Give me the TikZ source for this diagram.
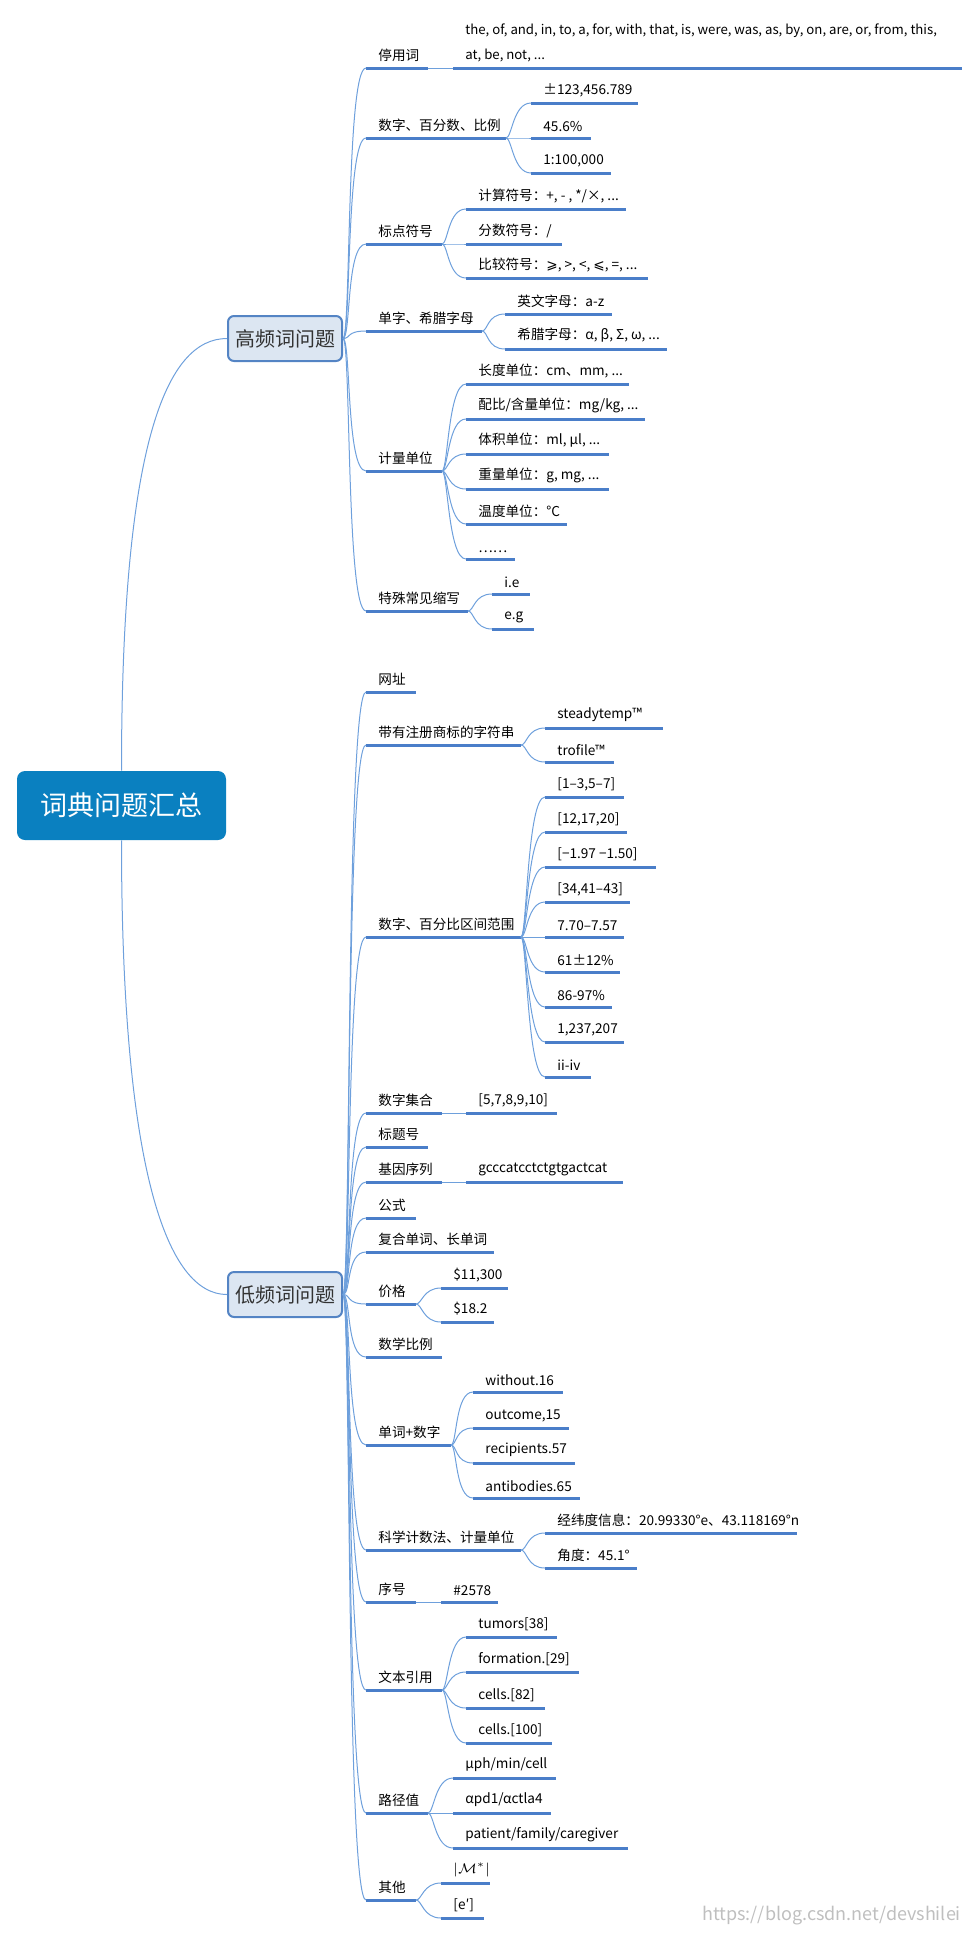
\documentclass[tikz,border=0pt]{standalone}
\usepackage{fontspec}
\setmainfont{Noto Sans CJK SC}
\newfontfamily\symf{DejaVu Sans}
\definecolor{ulblue}{RGB}{74,126,201}
\definecolor{lnblue}{RGB}{110,160,220}
\definecolor{rootblue}{RGB}{10,128,192}
\definecolor{boxfill}{RGB}{220,230,242}
\definecolor{boxline}{RGB}{84,132,196}
\tikzset{
  item/.style={anchor=south west, inner xsep=6pt, inner ysep=3pt, font=\fontsize{6.8}{10.5}\selectfont, align=left},
  ul/.style={ulblue, line width=1.5pt},
  link/.style={lnblue, line width=0.5pt},
  topic/.style={draw=boxline, line width=1pt, fill=boxfill, rounded corners=3pt, minimum width=57pt, minimum height=22.5pt, font=\fontsize{10}{12}\selectfont, text=black!80},
}
\begin{document}
\begin{tikzpicture}[x=0.5pt,y=-0.5pt]
\useasboundingbox (0,0) rectangle (975,1934);

% root and the two topics
\node[fill=rootblue, rounded corners=4pt, minimum width=104.5pt, minimum height=34.5pt, text=white, font=\fontsize{13.5}{16}\selectfont] (root) at (121.5,805.5) {词典问题汇总};
\node[topic] (hi) at (285,338.5) {高频词问题};
\node[topic] (lo) at (285,1294.5) {低频词问题};
\draw[link] (root.north) .. controls +(0,-330) and +(-60,0) .. (hi.west);
\draw[link] (root.south) .. controls +(0,330) and +(-60,0) .. (lo.west);

% high frequency branches
\node[item] (s1) at (366,68) {停用词};
\node[item] (s2) at (366,138) {数字、百分数、比例};
\node[item] (s3) at (366,244) {标点符号};
\node[item] (s4) at (366,331) {单字、希腊字母};
\node[item] (s5) at (366,471) {计量单位};
\node[item] (s6) at (366,611) {特殊常见缩写};
\foreach \n/\L in {s1/62,s2/140,s3/76,s4/116,s5/76,s6/102} {
  \draw[ul] (\n.south west) -- ++(\L,0) coordinate (\n E);
  \draw[link] (hi.east) .. controls +(8,0) and +(-20,0) .. (\n.south west);
}

% stop words
\node[item, font=\fontsize{6.6}{12.5}\selectfont] (s1c1) at (453,68) {the, of, and, in, to, a, for, with, that, is, were, was, as, by, on, are, or, from, this,\\at, be, not, ...};
\draw[ul] (s1c1.south west) -- ++(509,0);
\draw[link] (s1E) -- (s1c1.south west);

% leaves of the high frequency branches
\foreach \y/\L/\t [count=\i] in {103/107/{±123,456.789},138/60/{45.6\%},173/80/{1:100,000}} {
  \node[item] (s2c\i) at (531,\y) {\t};
  \draw[ul] (s2c\i.south west) -- ++(\L,0);
  \draw[link] (s2E) .. controls +(6,0) and +(-18,0) .. (s2c\i.south west);
}
\foreach \y/\L/\t [count=\i] in {209/160/{计算符号：+, - , */×, ...},244/96/{分数符号：/},278/182/{比较符号：{\symf ⩾}, >, <, {\symf ⩽}, =, ...}} {
  \node[item] (s3c\i) at (466,\y) {\t};
  \draw[ul] (s3c\i.south west) -- ++(\L,0);
  \draw[link] (s3E) .. controls +(6,0) and +(-18,0) .. (s3c\i.south west);
}
\foreach \y/\L/\t [count=\i] in {314/107/{英文字母：a-z},349/162/{希腊字母：α, β, Σ, ω, ...}} {
  \node[item] (s4c\i) at (505,\y) {\t};
  \draw[ul] (s4c\i.south west) -- ++(\L,0);
  \draw[link] (s4E) .. controls +(6,0) and +(-18,0) .. (s4c\i.south west);
}
\foreach \y/\L/\t [count=\i] in {384/163/{长度单位：cm、mm, ...},419/179/{配比/含量单位：mg/kg, ...},454/143/{体积单位：ml, μl, ...},489/143/{重量单位：g, mg, ...},524/101/{温度单位：°C},559/49/{……}} {
  \node[item] (s5c\i) at (466,\y) {\t};
  \draw[ul] (s5c\i.south west) -- ++(\L,0);
  \draw[link] (s5E) .. controls +(6,0) and +(-18,0) .. (s5c\i.south west);
}
\foreach \y/\L/\t [count=\i] in {594/38/{i.e},629/42/{e.g}} {
  \node[item] (s6c\i) at (492,\y) {\t};
  \draw[ul] (s6c\i.south west) -- ++(\L,0);
  \draw[link] (s6E) .. controls +(6,0) and +(-18,0) .. (s6c\i.south west);
}

% low frequency branches
\foreach \n/\y/\L/\t in {t1/692/50/{网址},t2/745/155/{带有注册商标的字符串},t3/937/155/{数字、百分比区间范围},t4/1113/76/{数字集合},t5/1147/62/{标题号},t6/1182/76/{基因序列},t7/1218/50/{公式},t8/1252/128/{复合单词、长单词},t9/1304/50/{价格},t10/1357/76/{数学比例},t11/1445/85/{单词+数字},t12/1550/155/{科学计数法、计量单位},t13/1602/50/{序号},t14/1690/76/{文本引用},t15/1813/62/{路径值},t16/1900/50/{其他}} {
  \node[item] (\n) at (366,\y) {\t};
  \draw[ul] (\n.south west) -- ++(\L,0) coordinate (\n E);
  \draw[link] (lo.east) .. controls +(8,0) and +(-20,0) .. (\n.south west);
}

% leaves of the low frequency branches
\foreach \y/\L/\t [count=\i] in {728/118/{steadytemp™},762/69/{trofile™}} {
  \node[item] (t2c\i) at (545,\y) {\t};
  \draw[ul] (t2c\i.south west) -- ++(\L,0);
  \draw[link] (t2E) .. controls +(6,0) and +(-18,0) .. (t2c\i.south west);
}
\foreach \y/\L/\t [count=\i] in {797/79/{[1–3,5–7]},832/82/{[12,17,20]},867/111/{[−1.97 −1.50]},902/85/{[34,41–43]},937/79/{7.70–7.57},972/75/{61±12\%},1007/67/{86-97\%},1042/79/{1,237,207},1077/46/{ii-iv}} {
  \node[item] (t3c\i) at (545,\y) {\t};
  \draw[ul] (t3c\i.south west) -- ++(\L,0);
  \draw[link] (t3E) .. controls +(6,0) and +(-18,0) .. (t3c\i.south west);
}
\node[item] (t4c1) at (466,1113) {[5,7,8,9,10]};
\draw[ul] (t4c1.south west) -- ++(91,0);
\draw[link] (t4E) -- (t4c1.south west);
\node[item] (t6c1) at (466,1182) {gcccatcctctgtgactcat};
\draw[ul] (t6c1.south west) -- ++(157,0);
\draw[link] (t6E) -- (t6c1.south west);
\foreach \y/\L/\t [count=\i] in {1288/67/{\$11,300},1322/53/{\$18.2}} {
  \node[item] (t9c\i) at (441,\y) {\t};
  \draw[ul] (t9c\i.south west) -- ++(\L,0);
  \draw[link] (t9E) .. controls +(6,0) and +(-18,0) .. (t9c\i.south west);
}
\foreach \y/\L/\t [count=\i] in {1392/90/{without.16},1428/96/{outcome,15},1463/102/{recipients.57},1498/107/{antibodies.65}} {
  \node[item] (t11c\i) at (473,\y) {\t};
  \draw[ul] (t11c\i.south west) -- ++(\L,0);
  \draw[link] (t11E) .. controls +(6,0) and +(-18,0) .. (t11c\i.south west);
}
\foreach \y/\L/\t [count=\i] in {1533/252/{经纬度信息：20.99330°e、43.118169°n},1568/92/{角度：45.1°}} {
  \node[item] (t12c\i) at (545,\y) {\t};
  \draw[ul] (t12c\i.south west) -- ++(\L,0);
  \draw[link] (t12E) .. controls +(6,0) and +(-18,0) .. (t12c\i.south west);
}
\node[item] (t13c1) at (441,1602) {\#2578};
\draw[ul] (t13c1.south west) -- ++(57,0);
\draw[link] (t13E) -- (t13c1.south west);
\foreach \y/\L/\t [count=\i] in {1637/91/{tumors[38]},1672/113/{formation.[29]},1708/79/{cells.[82]},1743/86/{cells.[100]}} {
  \node[item] (t14c\i) at (466,\y) {\t};
  \draw[ul] (t14c\i.south west) -- ++(\L,0);
  \draw[link] (t14E) .. controls +(6,0) and +(-18,0) .. (t14c\i.south west);
}
\foreach \y/\L/\t [count=\i] in {1778/103/{μph/min/cell},1813/98/{αpd1/αctla4},1848/175/{patient/family/caregiver}} {
  \node[item] (t15c\i) at (453,\y) {\t};
  \draw[ul] (t15c\i.south west) -- ++(\L,0);
  \draw[link] (t15E) .. controls +(6,0) and +(-18,0) .. (t15c\i.south west);
}
\foreach \y/\L/\t [count=\i] in {1883/49/{$|\mathcal{M}^*|$},1918/43/{[e′]}} {
  \node[item] (t16c\i) at (441,\y) {\t};
  \draw[ul] (t16c\i.south west) -- ++(\L,0);
  \draw[link] (t16E) .. controls +(6,0) and +(-18,0) .. (t16c\i.south west);
}

% watermark
\node[anchor=east, text=black!25, font=\fontsize{9}{11}\selectfont] (mark) at (968,1916) {https://blog.csdn.net/devshilei};
\end{tikzpicture}
\end{document}
